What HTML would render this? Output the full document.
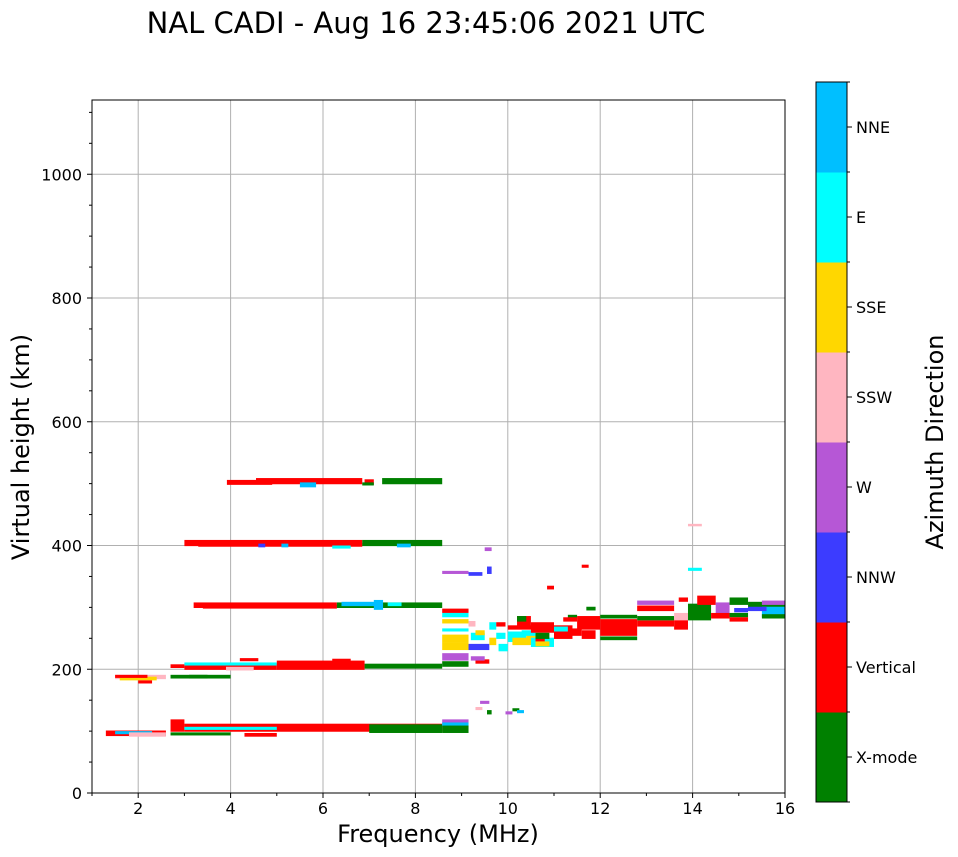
<!DOCTYPE html>
<html><head><meta charset="utf-8">
<style>
html,body{margin:0;padding:0;background:#fff;}
svg{display:block;font-family:"DejaVu Sans","Liberation Sans",sans-serif;}
</style></head>
<body>
<svg id="chart" width="958" height="857" viewBox="0 0 958 857">
<text x="426" y="33" font-size="29" text-anchor="middle">NAL CADI - Aug 16 23:45:06 2021 UTC</text>
<g id="grid"></g>
<g id="marks"></g>
<g id="axes"></g>
<g id="cbar"></g>
<text x="438" y="842" font-size="24" text-anchor="middle">Frequency (MHz)</text>
<text transform="translate(29,447) rotate(-90)" font-size="24" text-anchor="middle">Virtual height (km)</text>
<text transform="translate(943,442) rotate(-90)" font-size="24" text-anchor="middle">Azimuth Direction</text>
</svg>
<script>
const directions = ["X-mode","Vertical","NNW","W","SSW","SSE","E","NNE"];
const dirColors = ["#008000","#ff0000","#3c3cff","#b657d6","#ffb6c1","#ffd700","#00ffff","#00bfff"];
const xTicks = [2,4,6,8,10,12,14,16];
const yTicks = [0,200,400,600,800,1000];
// echo segments: frequency start/end (MHz), height bottom/top (km), direction index
const freqStart = [3.92,4.55,5.5,6.9,6.85,7.28, 3.0,3.3,4.6,5.1,6.85,6.2,7.6, 3.2,3.4,6.3,6.4,7.4,7.1, 2.7,3.0,3.0,5.0,6.9,6.2,3.9,4.2, 1.5,1.6,1.5,2.7,3.1,2.0, 1.3,1.5,1.8,2.7,3.0,3.0,7.0,2.7,4.3,
 8.58,8.58,8.58,8.58,8.58,8.58,8.58,8.58, 9.15,9.2,9.3,9.15,9.3,9.2, 9.6,9.6,9.75,9.8,9.75, 10,10.1,10,10.2,10.2,10.4,10.3, 10.5,10.5,10.6,10.6,10.6, 11,11.3,11.3,11.2,11, 11.5,11.6,11.7, 12,12,12, 12.8,12.8,12.8,12.8, 13.6,13.6,13.7, 13.9,13.9,13.9, 14.1,14.5,14.4, 14.8,14.8,14.8,14.9, 15.2,15.5,15.5,15.5,15.2,
 9.55,8.58,9.15,9.5,10.85,11.6,9.4,9.3,9.55,9.95,10.1,10.2,8.58,8.58,8.58];
const freqEnd = [4.9,6.85,5.85,7.1,7.1,8.58, 6.85,6.85,4.75,5.25,8.58,6.6,7.9, 6.3,6.3,8.58,7.2,7.7,7.3, 3.0,5.0,5.0,6.9,8.58,6.6,4.5,4.6, 2.6,2.4,2.2,3.5,4.0,2.3, 2.6,2.3,2.6,3.0,8.58,5.0,8.58,4.0,5.0,
 9.15,9.15,9.15,9.15,9.15,9.15,9.15,9.15, 9.6,9.5,9.5,9.3,9.6,9.5, 9.75,9.75,9.95,10,9.95, 10.4,10.6,10.6,10.5,10.4,10.6,10.6, 11,11,10.8,10.9,10.9, 11.4,11.6,11.5,11.5,11.3, 12,11.9,11.9, 12.8,12.8,12.8, 13.6,13.6,13.6,13.6, 13.9,13.9,13.9, 14.4,14.2,14.2, 14.5,14.8,14.8, 15.2,15.2,15.2,15.2, 16,16,16,16,15.6,
 9.65,9.15,9.45,9.65,11,11.75,9.6,9.45,9.65,10.1,10.25,10.35,9.15,9.15,9.15];
const heightBottom = [498,499,494,498,497,499, 399,398,397,397,399,395,397, 299,298,299,302,302,296, 202,199,206,199,201,212,198,213, 184,182,186,185,185,177, 92,95,91,99,99,102,97,93,91,
 291,284,274,261,244,231,214,204, 231,247,255,269,209,214, 264,239,249,229,269, 244,239,264,269,277,249,254, 259,236,244,249,237, 249,254,281,277,261, 264,249,295, 254,247,282, 269,279,304,294, 264,279,309, 279,359,431, 304,287,282, 304,284,277,292, 297,284,304,282,294,
 354,354,351,391,329,364,144,134,127,127,132,129,112,107,97];
const heightTop = [506,509,502,507,502,509, 409,404,403,403,409,400,403, 308,304,308,309,308,312, 208,209,211,214,209,217,204,218, 191,188,191,191,191,182, 101,100,98,119,112,107,111,98,97,
 298,291,281,266,256,244,226,213, 241,259,263,278,216,221, 276,251,259,241,276, 261,251,271,286,286,259,263, 276,251,256,259,245, 271,266,288,284,269, 286,263,301, 281,253,288, 279,286,311,303, 281,291,316, 306,364,435, 319,308,291, 316,291,284,299, 309,301,311,289,301,
 366,359,357,397,335,369,149,139,134,132,137,134,119,114,109];
const direction = [1,1,7,1,0,0, 1,1,2,7,0,6,7, 1,1,0,7,6,7, 1,1,6,1,0,1,4,1, 4,5,1,0,0,1, 1,7,4,1,1,6,0,0,1,
 1,6,5,6,5,5,3,0, 2,6,5,4,1,3, 6,5,6,6,1, 6,5,1,1,0,5,6, 1,6,1,0,5, 1,1,0,1,6, 1,1,0, 1,0,0, 1,0,3,1, 1,4,1, 0,6,4, 1,3,1, 0,0,1,2, 0,7,3,0,2,
 2,3,2,3,1,1,3,4,0,3,0,7,3,7,0];

const NS="http://www.w3.org/2000/svg";
const X0=92,X1=785,Y0=100,Y1=793,FMIN=1,FMAX=16,HMIN=0,HMAX=1120;
const xs=f=>X0+(f-FMIN)/(FMAX-FMIN)*(X1-X0);
const ys=h=>Y1-(h-HMIN)/(HMAX-HMIN)*(Y1-Y0);
function mk(tag,attrs,parent){const e=document.createElementNS(NS,tag);for(const k in attrs)e.setAttribute(k,attrs[k]);parent.appendChild(e);return e;}
const grid=document.getElementById('grid'),marks=document.getElementById('marks'),axes=document.getElementById('axes'),cbar=document.getElementById('cbar');
xTicks.forEach(t=>{
  const l=mk('line',{x1:xs(t),x2:xs(t),y1:Y0,y2:Y1,stroke:'#b0b0b0','stroke-width':1},grid);
  
  
  mk('line',{x1:xs(t),x2:xs(t),y1:Y1,y2:Y1+5,stroke:'#000'},axes);
  const tx=mk('text',{x:xs(t),y:Y1+21,'font-size':16,'text-anchor':'middle'},axes);tx.textContent=t;
  
  
});
for(let t=1;t<=15;t+=2){mk('line',{x1:xs(t),x2:xs(t),y1:Y1,y2:Y1+3,stroke:'#000'},axes);}
yTicks.forEach(t=>{
  const l=mk('line',{x1:X0,x2:X1,y1:ys(t),y2:ys(t),stroke:'#b0b0b0','stroke-width':1},grid);
  
  
  mk('line',{x1:X0-5,x2:X0,y1:ys(t),y2:ys(t),stroke:'#000'},axes);
  const tx=mk('text',{x:X0-10,y:ys(t)+6,'font-size':16,'text-anchor':'end'},axes);tx.textContent=t;
  
  
});
for(let t=50;t<HMAX;t+=50){if(t%200)mk('line',{x1:X0-3,x2:X0,y1:ys(t),y2:ys(t),stroke:'#000'},axes);}
for(let i=0;i<freqStart.length;i++){
  const r=mk('rect',{x:xs(freqStart[i]),y:ys(heightTop[i]),width:Math.max(1,xs(freqEnd[i])-xs(freqStart[i])),height:Math.max(1.5,ys(heightBottom[i])-ys(heightTop[i])),fill:dirColors[direction[i]]},marks);
  
  
}
mk('rect',{x:X0,y:Y0,width:X1-X0,height:Y1-Y0,fill:'none',stroke:'#000','stroke-width':1},axes);
// colorbar
const CX=816,CW=31,CT=82,CB=802,seg=(CB-CT)/directions.length;
directions.forEach((d,i)=>{
  const y=CB-(i+1)*seg;
  const r=mk('rect',{x:CX,y:y,width:CW,height:seg+0.5,fill:dirColors[i]},cbar);
  
  
  mk('line',{x1:CX+CW,x2:CX+CW+5,y1:y+seg/2,y2:y+seg/2,stroke:'#000'},cbar);
  const tx=mk('text',{x:CX+CW+9,y:y+seg/2+6,'font-size':16},cbar);tx.textContent=d;
  
  
});
for(let i=0;i<=directions.length;i++){mk('line',{x1:CX+CW,x2:CX+CW+3,y1:CT+i*seg,y2:CT+i*seg,stroke:'#000'},cbar);}
mk('rect',{x:CX,y:CT,width:CW,height:CB-CT,fill:'none',stroke:'#000'},cbar);
</script>
</body></html>
